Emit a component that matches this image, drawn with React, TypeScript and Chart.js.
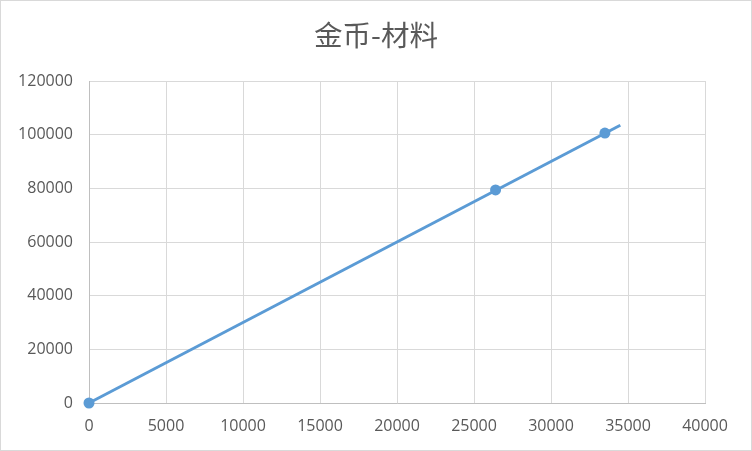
import React, { useEffect, useRef } from "react";
import { Chart, registerables } from "chart.js";

Chart.register(...registerables);

const titleText = "金币-材料";
const pointX = [0, 26400, 33500];
const pointY = [0, 79400, 100600];
const trendX = [0, 34500];
const trendY = [0, 103500];
const xMin = 0, xMax = 40000, xStep = 5000;
const yMin = 0, yMax = 120000, yStep = 20000;

const W = 750, H = 449;

export default function App() {
  const ref = useRef<HTMLCanvasElement>(null);
  useEffect(() => {
    document.body.style.margin = "0";
    const ctx = ref.current!;
    const tickFont = { family: "'Open Sans', sans-serif", size: 16 };
    const chart = new Chart(ctx, {
      type: "scatter",
      data: {
        datasets: [
          {
            label: "trend",
            data: trendX.map((x, i) => ({ x, y: trendY[i] })),
            showLine: true,
            borderColor: "#5b9bd5",
            borderWidth: 3,
            pointRadius: 0,
            pointHoverRadius: 0,
            clip: false,
          },
          {
            label: "data",
            data: pointX.map((x, i) => ({ x, y: pointY[i] })),
            showLine: false,
            backgroundColor: "#5b9bd5",
            borderColor: "#5b9bd5",
            pointRadius: 5.5,
            borderWidth: 0,
            clip: false,
          },
        ],
      },
      options: {
        responsive: false,
        animation: false,
        layout: { padding: 0 },
        plugins: {
          legend: { display: false },
          tooltip: { enabled: false },
          title: {
            display: true,
            text: titleText,
            color: "#595959",
            font: { family: "'Noto Sans CJK SC', sans-serif", size: 28.5, weight: "normal", lineHeight: 1.2 },
            padding: { top: 17.4, bottom: 28.4 },
          },
        },
        scales: {
          x: {
            type: "linear",
            min: xMin,
            max: xMax,
            afterFit: (s: any) => { s.height = 47; },
            ticks: {
              stepSize: xStep,
              color: "#595959",
              font: tickFont,
              padding: 14,
              maxRotation: 0,
              callback: (v: any) => String(v),
            },
            grid: { color: "#d9d9d9", lineWidth: 1, drawTicks: false },
            border: { color: "#bfbfbf", width: 1 },
          },
          y: {
            type: "linear",
            min: yMin,
            max: yMax,
            afterFit: (s: any) => { s.width = 88; },
            ticks: {
              stepSize: yStep,
              color: "#595959",
              font: tickFont,
              padding: 16,
              callback: (v: any) => String(v),
            },
            grid: { color: "#d9d9d9", lineWidth: 1, drawTicks: false },
            border: { color: "#bfbfbf", width: 1 },
          },
          yRight: {
            type: "linear",
            position: "right",
            min: yMin,
            max: yMax,
            afterFit: (s: any) => { s.width = 46; },
            ticks: { display: false },
            grid: { display: false, drawTicks: false },
            border: { display: false },
          },
        },
      },
    });
    return () => chart.destroy();
  }, []);
  return (
    <div
      style={{
        position: "fixed",
        left: 0,
        top: 0,
        width: 752,
        height: 451,
        boxSizing: "border-box",
        border: "1px solid #d9d9d9",
        background: "#fff",
      }}
    >
      <canvas ref={ref} width={W} height={H} style={{ display: "block", width: W, height: H }} />
    </div>
  );
}
